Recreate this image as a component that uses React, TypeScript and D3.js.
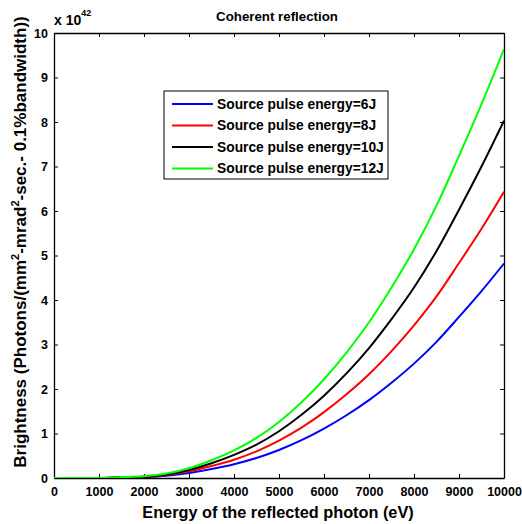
import { useEffect, useRef } from 'react';
import * as d3 from 'd3';

const energy = [0, 500, 1000, 1500, 2000, 2500, 3000, 3500, 4000, 4500, 5000, 5500, 6000, 6500, 7000, 7500, 8000, 8500, 9000, 9500, 10000];

const blue6J = [0, 0, 0, 0.01, 0.02, 0.05, 0.11, 0.2, 0.31, 0.45, 0.63, 0.85, 1.11, 1.41, 1.75, 2.14, 2.57, 3.06, 3.62, 4.2, 4.82];
const red8J = [0, 0, 0, 0.01, 0.03, 0.07, 0.15, 0.27, 0.41, 0.6, 0.84, 1.13, 1.48, 1.88, 2.33, 2.85, 3.43, 4.08, 4.83, 5.6, 6.43];
const black10J = [0, 0, 0, 0.02, 0.03, 0.08, 0.18, 0.33, 0.52, 0.75, 1.05, 1.42, 1.85, 2.35, 2.92, 3.57, 4.28, 5.1, 6.03, 7.0, 8.03];
const green12J = [0, 0, 0, 0.02, 0.04, 0.1, 0.22, 0.4, 0.62, 0.9, 1.26, 1.7, 2.22, 2.82, 3.5, 4.28, 5.14, 6.12, 7.24, 8.4, 9.64];

const seriesNames = ['Source pulse energy=6J', 'Source pulse energy=8J', 'Source pulse energy=10J', 'Source pulse energy=12J'];
const seriesColors = ['#0000ff', '#ff0000', '#000000', '#00ff00'];

const xTicks = [0, 1000, 2000, 3000, 4000, 5000, 6000, 7000, 8000, 9000, 10000];
const yTicks = [0, 1, 2, 3, 4, 5, 6, 7, 8, 9, 10];

const App = () => {
  const svgRef = useRef<SVGSVGElement>(null);

  useEffect(() => {
    const W = 522;
    const H = 524;
    const margin = { top: 33, right: 18, bottom: 46, left: 54 };

    const svg = d3.select(svgRef.current)
      .attr('width', W)
      .attr('height', H)
      .style('font-family', 'Arial, "Liberation Sans", sans-serif');
    svg.selectAll('*').remove();

    const x = d3.scaleLinear().domain([0, 10000]).range([margin.left, W - margin.right]);
    const y = d3.scaleLinear().domain([0, 10]).range([H - margin.bottom, margin.top]);

    // ticks inside, matlab style, on all four sides
    const bottom = svg.append('g')
      .attr('transform', `translate(0, ${y(0)})`)
      .call(d3.axisBottom(x).tickValues(xTicks).tickSizeInner(-4).tickSizeOuter(0).tickPadding(9).tickFormat(d3.format('d')));
    const left = svg.append('g')
      .attr('transform', `translate(${x(0)}, 0)`)
      .call(d3.axisLeft(y).tickValues(yTicks).tickSizeInner(-4).tickSizeOuter(0).tickPadding(6).tickFormat(d3.format('d')));
    svg.append('g')
      .attr('transform', `translate(0, ${y(10)})`)
      .call(d3.axisTop(x).tickValues(xTicks).tickSizeInner(-4).tickSizeOuter(0).tickFormat(() => ''));
    svg.append('g')
      .attr('transform', `translate(${x(10000)}, 0)`)
      .call(d3.axisRight(y).tickValues(yTicks).tickSizeInner(-4).tickSizeOuter(0).tickFormat(() => ''));

    [bottom, left].forEach(g => {
      g.selectAll('text')
        .attr('font-size', 12.5)
        .attr('font-weight', 'bold')
        .attr('fill', '#000')
        .attr('font-family', 'Arial, "Liberation Sans", sans-serif');
    });
    svg.selectAll('.domain').attr('stroke', '#000').attr('stroke-width', 1.3);
    svg.selectAll('.tick line').attr('stroke', '#000');

    const line = d3.line<number>()
      .x((_, i) => x(energy[i]))
      .y(d => y(d))
      .curve(d3.curveMonotoneX);

    svg.append('clipPath').attr('id', 'plotclip')
      .append('rect')
      .attr('x', x(0))
      .attr('y', y(10))
      .attr('width', x(10000) - x(0))
      .attr('height', y(0) - y(10));

    svg.append('g')
      .attr('clip-path', 'url(#plotclip)')
      .selectAll('.line')
      .data([blue6J, red8J, black10J, green12J])
      .enter().append('path')
      .attr('class', 'line')
      .attr('fill', 'none')
      .attr('stroke', (_, i) => seriesColors[i])
      .attr('stroke-width', 2)
      .attr('d', d => line(d));

    // legend
    const legend = svg.append('g').attr('transform', 'translate(164, 91)');
    legend.append('rect')
      .attr('width', 224)
      .attr('height', 88)
      .attr('fill', '#fff')
      .attr('stroke', '#000')
      .attr('stroke-width', 1);
    const rows = legend.selectAll('.row')
      .data(seriesNames)
      .enter().append('g')
      .attr('transform', (_, i) => `translate(0, ${13 + i * 21.5})`);
    rows.append('line')
      .attr('x1', 8).attr('x2', 49)
      .attr('stroke', (_, i) => seriesColors[i])
      .attr('stroke-width', 2);
    rows.append('text')
      .attr('x', 53)
      .attr('dy', '0.35em')
      .attr('font-size', 13.8)
      .attr('font-weight', 'bold')
      .text(d => d);

    // title and exponent
    svg.append('text')
      .attr('x', 277)
      .attr('y', 21)
      .attr('text-anchor', 'middle')
      .attr('font-size', 13.3)
      .attr('font-weight', 'bold')
      .text('Coherent reflection');

    const expo = svg.append('text')
      .attr('x', 54)
      .attr('y', 25)
      .attr('font-size', 14)
      .attr('font-weight', 'bold');
    expo.append('tspan').text('x 10');
    expo.append('tspan').attr('font-size', 9).attr('dy', -9).text('42');

    // axis labels
    svg.append('text')
      .attr('x', 278)
      .attr('y', 518)
      .attr('text-anchor', 'middle')
      .attr('font-size', 16.3)
      .attr('font-weight', 'bold')
      .text('Energy of the reflected photon (eV)');

    const ylab = svg.append('text')
      .attr('transform', 'translate(26, 242) rotate(-90)')
      .attr('text-anchor', 'middle')
      .attr('font-size', 17)
      .attr('font-weight', 'bold');
    ylab.append('tspan').text('Brightness (Photons/(mm');
    ylab.append('tspan').attr('font-size', 11).attr('dy', -7).text('2');
    ylab.append('tspan').attr('dy', 7).text('-mrad');
    ylab.append('tspan').attr('font-size', 11).attr('dy', -7).text('2');
    ylab.append('tspan').attr('dy', 7).text('-sec.- 0.1%bandwidth))');
  }, []);

  return (
    <div style={{ position: 'absolute', left: 0, top: 0 }}>
      <svg ref={svgRef} style={{ display: 'block', background: '#fff' }} />
    </div>
  );
};

export default App;
